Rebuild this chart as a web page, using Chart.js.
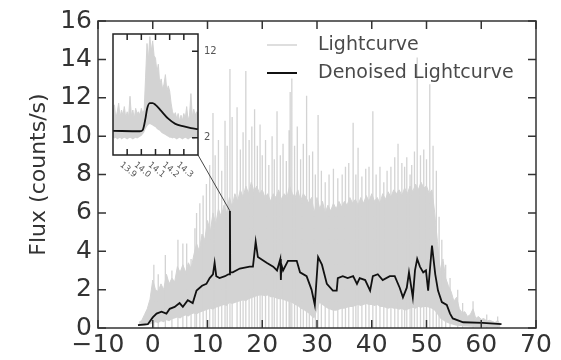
<!DOCTYPE html>
<html><head><meta charset="utf-8">
<script src="https://cdn.jsdelivr.net/npm/chart.js@4"></script>
<style>
html,body{margin:0;padding:0;background:#fff;}
#wrap{position:relative;width:561px;height:360px;overflow:hidden;}
#main{position:absolute;left:0;top:0;}
#inset{position:absolute;left:108px;top:22px;}
</style></head><body>
<div id="wrap"><canvas id="main" width="561" height="360"></canvas><canvas id="inset" width="125" height="170"></canvas></div>
<script>
const FONT = "'DejaVu Sans', sans-serif";

// ---- main chart data ----
const xTicks = [-10, 0, 10, 20, 30, 40, 50, 60, 70];
const yTicks = [0, 2, 4, 6, 8, 10, 12, 14, 16];
const lcStart = -2.5, lcStep = 0.5;
// top of the dense lightcurve band
const lcDense = [
  0.3,0.4,0.7,1.0,1.5,
  2.5,2.0,1.9,2.3,2.0,2.8,2.3,2.6,2.4,3.2,
  2.9,3.3,2.9,3.4,3.1,3.8,4.4,4.0,4.9,4.6,
  5.6,5.0,6.0,5.4,6.2,5.8,6.4,6.0,6.8,6.3,
  7.0,6.6,7.2,6.8,7.4,7.0,7.6,7.1,7.4,7.0,
  7.2,6.8,7.0,6.6,7.0,6.8,7.2,6.7,7.0,6.8,
  7.4,7.0,6.8,7.2,6.6,7.0,6.8,6.5,6.8,6.0,
  6.8,6.2,6.6,6.0,6.4,6.1,6.5,6.2,6.6,6.3,
  6.6,6.4,6.8,6.5,6.7,6.4,6.8,6.5,6.9,6.6,
  7.0,6.6,6.8,6.5,7.0,6.7,7.1,6.8,7.2,7.0,
  7.2,6.9,7.3,7.0,7.4,7.1,7.5,7.2,7.6,7.3,
  7.4,7.0,7.2,6.0,4.5,3.0,3.6,2.6,2.2,1.9,
  1.4,1.6,1.0,0.8,0.85,0.6,0.7,1.0,0.5,0.6,
  0.45,0.5,0.35,0.4,0.35,0.28,0.4,0.15
];
// bottom of the lightcurve band
const lcLower = [
  0.1,0.1,0.1,0.15,0.2,
  0.25,0.3,0.25,0.35,0.3,0.4,0.35,0.45,0.5,0.55,
  0.5,0.6,0.65,0.6,0.7,0.75,0.7,0.8,0.85,0.9,
  0.95,1.0,0.95,1.05,1.1,1.15,1.2,1.15,1.3,1.25,
  1.3,1.35,1.4,1.45,1.4,1.5,1.55,1.6,1.65,1.7,
  1.7,1.65,1.7,1.6,1.6,1.55,1.5,1.5,1.45,1.4,
  1.35,1.3,1.2,1.15,1.0,0.95,0.85,0.75,0.6,0.5,
  0.9,1.3,1.2,1.1,1.0,0.95,0.9,0.9,0.95,1.0,
  1.0,1.05,1.1,1.1,1.15,1.2,1.15,1.2,1.25,1.2,
  1.2,1.15,1.2,1.1,1.1,1.05,1.0,1.05,1.0,1.0,
  0.95,1.0,0.9,0.95,1.0,1.05,1.0,1.1,1.05,1.1,
  1.1,1.05,1.0,0.9,0.7,0.5,0.4,0.3,0.25,0.2,
  0.15,0.12,0.1,0.1,0.08,0.08,0.06,0.06,0.05,0.05,
  0.05,0.05,0.04,0.04,0.04,0.03,0.03,0.03
];
// individual flux spikes above the band
const spikeX = [0.2,1.0,2.3,3.5,4.6,5.5,6.2,7.0,7.7,8.0,8.6,9.2,9.8,10.4,11.0,11.4,12.0,12.6,13.2,13.6,14.1,14.5,
  15.4,16.0,16.5,17.0,17.6,18.1,18.6,19.1,19.6,20.0,20.6,21.2,21.8,22.2,22.7,23.3,23.8,24.4,24.9,25.1,
  25.4,25.9,26.4,27.0,27.5,28.1,28.6,29.2,29.7,30.2,30.8,31.5,32.2,33.0,33.8,34.6,35.2,35.8,36.6,37.1,
  37.5,38.2,38.9,39.5,40.2,40.8,41.5,42.2,42.8,43.5,44.2,44.8,45.5,46.0,46.4,47.0,47.3,47.8,48.3,48.9,
  49.5,50.0,50.6,51.2,51.8,52.3,52.8,53.5,54.3,55.7,56.6,58.5,61.0,63.0];
const spikeY = [3.3,2.8,3.8,3.0,4.6,4.4,4.4,3.6,5.2,6.0,6.5,6.9,7.5,8.5,11.2,9.0,9.8,8.2,10.8,9.5,13.5,11.0,
  11.5,9.3,10.2,13.4,9.8,10.5,11.4,9.5,10.6,9.0,9.8,8.5,10.0,8.8,11.3,9.0,9.6,8.7,10.3,12.3,
  13.0,9.5,10.5,8.8,9.6,12.1,9.0,9.2,8.0,11.1,8.2,7.6,8.0,8.3,7.8,8.0,8.4,8.6,10.7,8.0,
  9.4,7.9,8.3,8.4,11.3,8.0,8.4,7.6,8.2,8.4,8.9,9.6,8.6,8.4,8.9,8.0,8.5,9.2,14.1,9.0,
  9.3,8.8,12.7,9.5,8.2,5.8,4.6,3.3,2.6,2.0,1.3,1.4,0.7,0.6];
const denX = [-2.7,-0.9,0,0.7,1.6,2.5,3.1,4.0,4.9,5.5,6.4,7.3,8.0,9.0,9.8,10.4,11.0,11.3,11.6,12.2,13.2,13.8,14.05,14.1,14.15,14.6,15.9,17.7,18.3,18.8,19.2,20.8,22.0,22.7,23.3,23.4,23.5,23.8,24.7,26.3,26.9,28.1,29.0,29.6,30.2,30.9,31.8,32.9,33.6,33.8,34.7,35.6,36.6,37.3,37.8,38.8,39.7,40.2,41.1,42.0,43.3,44.2,45.1,45.7,46.4,46.8,47.5,47.9,48.3,48.8,49.4,49.9,50.3,51.0,51.6,52.1,52.8,53.7,54.3,54.8,56.7,60.3,63.7];
const denY = [0.15,0.2,0.55,0.75,0.85,0.75,1.0,1.1,1.3,1.1,1.45,1.3,1.95,2.2,2.3,2.6,2.8,3.4,2.7,2.6,2.7,2.8,2.8,6.1,2.9,2.9,3.1,3.2,3.2,4.5,3.7,3.4,3.2,3.0,3.6,2.5,3.3,3.0,3.5,3.5,2.9,2.7,2.0,1.2,3.7,3.3,2.3,1.95,1.95,2.6,2.7,2.6,2.7,2.3,2.6,2.5,1.95,2.7,2.8,2.5,2.7,2.7,2.1,1.6,2.1,2.9,1.6,3.0,3.6,3.2,2.9,3.0,1.95,4.3,2.8,1.95,1.35,1.2,0.75,0.5,0.3,0.27,0.2];
const spikeTop = {x: 14.1, y: 6.1};

// ---- inset data ----
const insetXTicks = [13.9, 14.0, 14.1, 14.2, 14.3];
const insetYTicks = [2, 12];
const insetStart = 13.8, insetStep = 0.01;
const insetUpper = [
  4.5,5.8,4.2,5.0,6.0,4.4,5.2,4.6,5.6,4.3,
  5.0,4.4,6.8,4.5,5.2,4.2,5.4,4.8,5.0,4.6,
  5.4,4.8,5.2,9.0,12.9,11.0,13.7,12.0,13.2,11.5,
  11.2,9.6,10.5,8.2,8.8,7.6,8.2,9.3,7.4,8.0,
  7.4,6.0,5.0,4.6,4.9,4.2,4.8,3.9,4.6,4.0,
  4.8,4.2,5.6,4.0,4.6,7.1,4.4,5.3,4.6,5.0,
  4.8
];
const insetLower = [
  2.0,1.9,2.0,1.8,1.9,2.0,1.8,1.9,2.0,1.9,
  1.8,1.9,2.0,1.9,1.8,1.9,2.0,1.9,2.0,2.1,
  2.2,2.4,2.6,3.0,3.3,3.5,3.6,3.5,3.4,3.3,
  3.2,3.0,2.9,2.8,2.6,2.5,2.4,2.3,2.2,2.1,
  2.0,2.0,1.9,2.0,1.9,1.8,1.9,2.0,1.9,1.8,
  1.9,2.0,1.9,1.8,1.9,2.0,1.9,1.8,1.9,2.0,
  1.9
];
const insetDenX = [13.80,13.99,14.01,14.03,14.04,14.06,14.08,14.10,14.14,14.19,14.24,14.30,14.35,14.40];
const insetDenY = [2.8,2.75,2.9,4.3,5.3,6.0,6.0,5.8,5.1,4.2,3.6,3.3,3.1,3.0];

const GRAY = '#d3d3d3';
const pts = (xs, ys) => xs.map((x, i) => ({x, y: ys[i]}));
const grid = (start, step, n) => Array.from({length: n}, (_, i) => +(start + i * step).toFixed(3));
const spikeSegs = (xs, ys) => xs.flatMap((x, i) => [{x, y: 0}, {x, y: ys[i]}, {x, y: null}]);

const lcX = grid(lcStart, lcStep, lcDense.length);
const insetX = grid(insetStart, insetStep, insetUpper.length);

const framePlugin = {
  id: 'frame',
  afterDatasetsDraw(chart, args, o) {
    const {ctx, chartArea: a, scales: {x, y}} = chart;
    ctx.save();
    ctx.strokeStyle = o.color; ctx.lineWidth = o.width;
    ctx.beginPath();
    for (const t of x.ticks) {
      const px = x.getPixelForValue(t.value);
      if (o.bottom) { ctx.moveTo(px, a.bottom); ctx.lineTo(px, a.bottom - o.len); }
      if (o.top) { ctx.moveTo(px, a.top); ctx.lineTo(px, a.top + o.len); }
    }
    for (const t of y.ticks) {
      const py = y.getPixelForValue(t.value);
      if (o.left) { ctx.moveTo(a.left, py); ctx.lineTo(a.left + o.len, py); }
      if (o.right) { ctx.moveTo(a.right, py); ctx.lineTo(a.right - o.len, py); }
    }
    ctx.stroke();
    ctx.strokeRect(a.left, a.top, a.right - a.left, a.bottom - a.top);
    ctx.restore();
  }
};
const whiteBg = {
  id: 'whiteBg',
  beforeDraw(chart) {
    const {ctx, chartArea: a} = chart;
    ctx.save(); ctx.fillStyle = '#fff';
    ctx.fillRect(a.left, a.top, a.right - a.left, a.bottom - a.top);
    ctx.restore();
  }
};
const insetLabels = {
  id: 'insetLabels',
  afterDraw(chart) {
    const {ctx, scales: {x}, chartArea: a} = chart;
    ctx.save();
    ctx.font = `8.5px ${FONT}`; ctx.fillStyle = '#555';
    ctx.textAlign = 'center'; ctx.textBaseline = 'middle';
    for (const t of x.ticks) {
      const px = x.getPixelForValue(t.value);
      ctx.save(); ctx.translate(px + 1, a.bottom + 15); ctx.rotate(40 * Math.PI / 180);
      ctx.fillText(t.value.toFixed(1), 0, 0); ctx.restore();
    }
    ctx.restore();
  }
};

// ---- inset chart ----
const insetChart = new Chart(document.getElementById('inset'), {
  type: 'line',
  data: {datasets: [
    {data: pts(insetX, insetLower), borderWidth: 0, borderColor: 'transparent', pointRadius: 0, fill: false, order: 2},
    {data: pts(insetX, insetUpper), borderWidth: 1, borderColor: GRAY, backgroundColor: GRAY, pointRadius: 0, fill: '-1', order: 1},
    {data: pts(insetDenX, insetDenY), borderWidth: 1.8, borderColor: '#111', pointRadius: 0, fill: false, cubicInterpolationMode: 'monotone', order: 0}
  ]},
  options: {
    responsive: false, animation: false, devicePixelRatio: 1,
    layout: {padding: {left: 5, top: 5, right: 0, bottom: 0}},
    plugins: {legend: {display: false}, tooltip: {enabled: false},
      frame: {color: '#222', width: 1.5, len: 6, top: true, bottom: true, right: true}},
    scales: {
      x: {type: 'linear', min: 13.8, max: 14.4,
        afterBuildTicks: s => { s.ticks = insetXTicks.map(v => ({value: v})); },
        ticks: {display: false}, grid: {display: false, drawTicks: false}, border: {display: false},
        afterFit: s => { s.height = 37; }},
      y: {type: 'linear', position: 'right', min: 0, max: 14,
        afterBuildTicks: s => { s.ticks = insetYTicks.map(v => ({value: v})); },
        ticks: {font: {size: 10, family: FONT}, color: '#555', padding: 6},
        grid: {display: false, drawTicks: false}, border: {display: false},
        afterFit: s => { s.width = 35; }}
    }
  },
  plugins: [whiteBg, framePlugin, insetLabels]
});

const mainExtras = {
  id: 'mainExtras',
  afterDraw(chart, args, o) {
    const {ctx, scales: {x, y}} = chart;
    ctx.save();
    const ia = insetChart.chartArea;
    ctx.strokeStyle = '#444'; ctx.lineWidth = 1;
    ctx.beginPath();
    ctx.moveTo(108 + ia.right, 22 + ia.bottom);
    ctx.lineTo(x.getPixelForValue(spikeTop.x), y.getPixelForValue(spikeTop.y));
    ctx.stroke();
    ctx.font = `19px ${FONT}`; ctx.textBaseline = 'middle'; ctx.fillStyle = '#4a4a4a';
    o.items.forEach((idx, i) => {
      const ds = chart.data.datasets[idx];
      const yy = o.y + i * o.gap;
      ctx.strokeStyle = ds.borderColor; ctx.lineWidth = o.lineW[i];
      ctx.beginPath(); ctx.moveTo(o.x, yy); ctx.lineTo(o.x + 30, yy); ctx.stroke();
      ctx.fillText(ds.label, o.x + 51, yy);
    });
    ctx.restore();
  }
};

new Chart(document.getElementById('main'), {
  type: 'line',
  data: {datasets: [
    {label: 'lower', data: pts(lcX, lcLower), borderWidth: 0, borderColor: 'transparent', pointRadius: 0, fill: false, order: 3},
    {label: 'Lightcurve', data: pts(lcX, lcDense), borderWidth: 1, borderColor: GRAY, backgroundColor: GRAY, pointRadius: 0, fill: '-1', order: 2},
    {label: 'Denoised Lightcurve', data: pts(denX, denY), borderWidth: 1.8, borderColor: '#111', pointRadius: 0, fill: false, order: 0},
    {label: 'spikes', data: spikeSegs(spikeX, spikeY), borderWidth: 1.3, borderColor: GRAY, pointRadius: 0, fill: false, spanGaps: false, order: 1}
  ]},
  options: {
    responsive: false, animation: false, devicePixelRatio: 1,
    layout: {padding: {left: 0, top: 18, right: 25, bottom: 0}},
    plugins: {legend: {display: false}, tooltip: {enabled: false},
      frame: {color: '#333', width: 1.5, len: 8, top: true, bottom: true, left: true, right: true},
      mainExtras: {items: [1, 2], x: 267, y: 45, gap: 28, lineW: [1.5, 2]}},
    scales: {
      x: {type: 'linear', min: -10, max: 70,
        afterBuildTicks: s => { s.ticks = xTicks.map(v => ({value: v})); },
        ticks: {font: {size: 25, family: FONT}, color: '#333', padding: 2, autoSkip: false, maxRotation: 0,
          callback: v => (v < 0 ? '\u2212' + Math.abs(v) : String(v))},
        grid: {display: false, drawTicks: false}, border: {display: false},
        afterFit: s => { s.height = 32; }},
      y: {type: 'linear', min: 0, max: 16,
        afterBuildTicks: s => { s.ticks = yTicks.map(v => ({value: v})); },
        ticks: {font: {size: 25, family: FONT}, color: '#333', padding: 6, autoSkip: false},
        grid: {display: false, drawTicks: false}, border: {display: false},
        title: {display: true, text: 'Flux (counts/s)', font: {size: 22, family: FONT}, color: '#333', padding: {top: 26, bottom: 0}},
        afterFit: s => { s.width = 98; }}
    }
  },
  plugins: [framePlugin, mainExtras]
});
</script>
</body></html>
